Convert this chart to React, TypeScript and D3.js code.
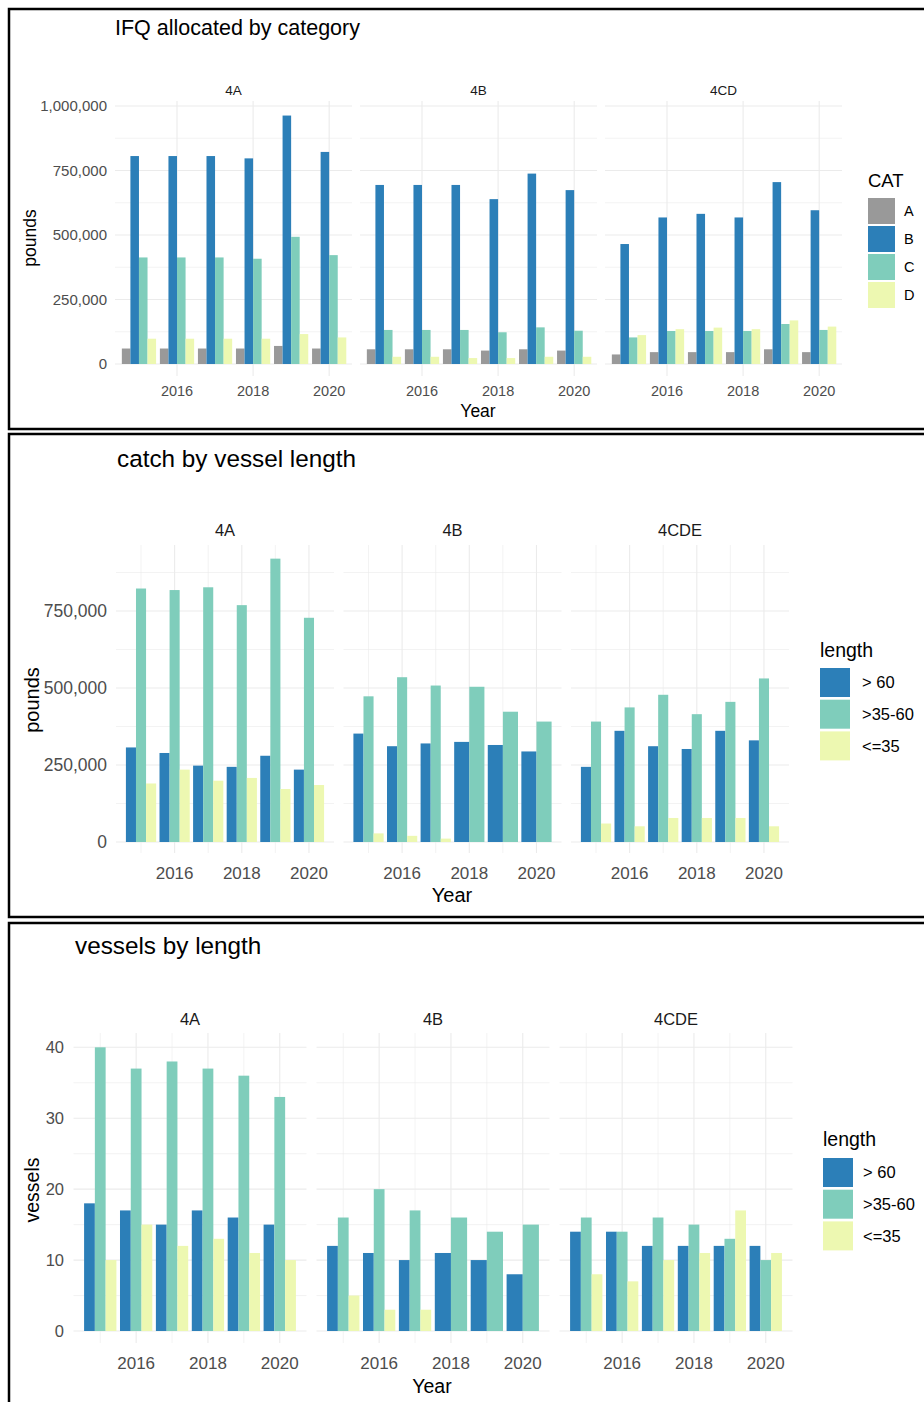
import React from 'react';
import * as d3 from 'd3';

// --- data ---
const years = [2015, 2016, 2017, 2018, 2019, 2020];

// IFQ allocated by category, rows = 4A, 4B, 4CD
const ifqAreas = ['4A', '4B', '4CD'];
const ifqCats = ['A', 'B', 'C', 'D'];
const ifqA = [
  [60000, 60000, 60000, 60000, 70000, 60000],
  [57000, 57000, 57000, 52000, 57000, 52000],
  [37000, 46000, 46000, 46000, 57000, 46000],
];
const ifqB = [
  [806000, 806000, 806000, 797000, 963000, 822000],
  [694000, 694000, 694000, 639000, 738000, 674000],
  [465000, 568000, 582000, 568000, 705000, 596000],
];
const ifqC = [
  [413000, 413000, 413000, 408000, 493000, 422000],
  [132000, 132000, 132000, 123000, 142000, 129000],
  [103000, 128000, 128000, 128000, 155000, 132000],
];
const ifqD = [
  [98000, 98000, 98000, 98000, 116000, 103000],
  [28000, 28000, 23000, 23000, 28000, 28000],
  [112000, 135000, 141000, 135000, 169000, 145000],
];

// catch and vessels by length, rows = 4A, 4B, 4CDE
const lenAreas = ['4A', '4B', '4CDE'];
const lenCats = ['> 60', '>35-60', '<=35'];
const catchOver60 = [
  [307000, 289000, 248000, 244000, 280000, 235000],
  [352000, 311000, 320000, 325000, 315000, 294000],
  [244000, 361000, 311000, 302000, 361000, 330000],
];
const catch35to60 = [
  [823000, 818000, 827000, 769000, 920000, 728000],
  [473000, 535000, 508000, 504000, 423000, 391000],
  [391000, 437000, 478000, 415000, 455000, 531000],
];
const catchUnder35 = [
  [190000, 235000, 199000, 208000, 172000, 185000],
  [28000, 20000, 11000, null, null, null],
  [60000, 51000, 78000, 78000, 78000, 51000],
];
const vesOver60 = [
  [18, 17, 15, 17, 16, 15],
  [12, 11, 10, 11, 10, 8],
  [14, 14, 12, 12, 12, 12],
];
const ves35to60 = [
  [40, 37, 38, 37, 36, 33],
  [16, 20, 17, 16, 14, 15],
  [16, 14, 16, 15, 13, 10],
];
const vesUnder35 = [
  [10, 15, 12, 13, 11, 10],
  [5, 3, 3, null, null, null],
  [8, 7, 10, 11, 17, 11],
];

const ifqTicks = [0, 250000, 500000, 750000, 1000000];
const catchTicks = [0, 250000, 500000, 750000];
const vesTicks = [0, 10, 20, 30, 40];
const yearTicks = [2016, 2018, 2020];

const catColors = ['#999999', '#2C7FB8', '#7FCDBB', '#EDF8B1'];
const lenColors = ['#2C7FB8', '#7FCDBB', '#EDF8B1'];

const FONT = '"Liberation Sans", Arial, sans-serif';
const GRID = '#EBEBEB';
const fmt = d3.format(',');

type Cfg = {
  title: string; titleX: number; titleY: number; titleSize: number;
  areas: string[]; cats: string[]; colors: string[]; series: (number | null)[][][];
  panelX: number[]; panelW: number; panelTop: number; panelBottom: number;
  xDomain: [number, number]; yMax: number; zeroY: number; maxY: number;
  yTicks: number[]; yMinor: number[]; xMinor: number[];
  yLabelX: number; yTickSize: number; tickSize: number; tickY: number;
  facetY: number; facetSize: number;
  xTitleX: number; xTitleY: number; yTitle: string; yTitleX: number; yTitleY: number; axisTitleSize: number;
  legTitle: string; legX: number; legTitleY: number; legTitleSize: number;
  keyY: number; keyW: number; keyH: number; keyStep: number; legLabelX: number; legLabelSize: number;
};

function FacetBars({ c }: { c: Cfg }) {
  const y = d3.scaleLinear().domain([0, c.yMax]).range([c.zeroY, c.maxY]);
  return (
    <g fontFamily={FONT}>
      <text x={c.titleX} y={c.titleY} fontSize={c.titleSize} fill="#000">{c.title}</text>
      {c.areas.map((area, ai) => {
        const x = d3.scaleLinear().domain(c.xDomain).range([c.panelX[ai], c.panelX[ai] + c.panelW]);
        const x0 = c.panelX[ai];
        const x1 = x0 + c.panelW;
        return (
          <g key={area}>
            {c.yMinor.map((t) => (
              <line key={'ym' + t} x1={x0} x2={x1} y1={y(t)} y2={y(t)} stroke={GRID} strokeWidth={0.6} />
            ))}
            {c.xMinor.map((t) => (
              <line key={'xm' + t} x1={x(t)} x2={x(t)} y1={c.panelTop} y2={c.panelBottom} stroke={GRID} strokeWidth={0.6} />
            ))}
            {c.yTicks.map((t) => (
              <line key={'y' + t} x1={x0} x2={x1} y1={y(t)} y2={y(t)} stroke={GRID} strokeWidth={1.1} />
            ))}
            {yearTicks.map((t) => (
              <line key={'x' + t} x1={x(t)} x2={x(t)} y1={c.panelTop} y2={c.panelBottom} stroke={GRID} strokeWidth={1.1} />
            ))}
            {years.map((yr, yi) => {
              const present = c.series
                .map((s, si) => ({ v: s[ai][yi], si }))
                .filter((d) => d.v !== null && d.v !== undefined);
              const bw = 0.9 / present.length;
              return present.map((d, k) => {
                const left = x(yr - 0.45 + k * bw);
                const right = x(yr - 0.45 + (k + 1) * bw);
                return (
                  <rect key={yr + '-' + d.si} x={left} width={right - left}
                    y={y(d.v as number)} height={c.zeroY - y(d.v as number)} fill={c.colors[d.si]} />
                );
              });
            })}
            <text x={(x0 + x1) / 2} y={c.facetY + c.facetSize * 0.35} fontSize={c.facetSize}
              textAnchor="middle" fill="#1A1A1A">{area}</text>
            {yearTicks.map((t) => (
              <text key={'xl' + t} x={x(t)} y={c.tickY + c.tickSize * 0.35} fontSize={c.tickSize}
                textAnchor="middle" fill="#4D4D4D">{t}</text>
            ))}
          </g>
        );
      })}
      {c.yTicks.map((t) => (
        <text key={'yl' + t} x={c.yLabelX} y={y(t) + c.yTickSize * 0.35} fontSize={c.yTickSize}
          textAnchor="end" fill="#4D4D4D">{fmt(t)}</text>
      ))}
      <text x={c.xTitleX} y={c.xTitleY + c.axisTitleSize * 0.35} fontSize={c.axisTitleSize} textAnchor="middle" fill="#000">Year</text>
      <text transform={`translate(${c.yTitleX},${c.yTitleY}) rotate(-90)`} y={c.axisTitleSize * 0.35}
        fontSize={c.axisTitleSize} textAnchor="middle" fill="#000">{c.yTitle}</text>
      <text x={c.legX} y={c.legTitleY + c.legTitleSize * 0.35} fontSize={c.legTitleSize} fill="#000">{c.legTitle}</text>
      {c.cats.map((cat, i) => (
        <g key={cat}>
          <rect x={c.legX} y={c.keyY + i * c.keyStep} width={c.keyW} height={c.keyH} fill={c.colors[i]} />
          <text x={c.legLabelX} y={c.keyY + i * c.keyStep + c.keyH / 2 + c.legLabelSize * 0.35}
            fontSize={c.legLabelSize} fill="#000">{cat}</text>
        </g>
      ))}
    </g>
  );
}

const half = (ticks: number[]) => ticks.slice(1).map((t, i) => (t + ticks[i]) / 2);

const chart1: Cfg = {
  title: 'IFQ allocated by category', titleX: 115, titleY: 35, titleSize: 21.5,
  areas: ifqAreas, cats: ifqCats, colors: catColors, series: [ifqA, ifqB, ifqC, ifqD],
  panelX: [115, 360, 605], panelW: 237, panelTop: 101, panelBottom: 376,
  xDomain: [2014.37, 2020.6], yMax: 1000000, zeroY: 364, maxY: 106,
  yTicks: ifqTicks, yMinor: half(ifqTicks), xMinor: [],
  yLabelX: 107, yTickSize: 15, tickSize: 14.5, tickY: 391,
  facetY: 90, facetSize: 13.5,
  xTitleX: 478, xTitleY: 411, yTitle: 'pounds', yTitleX: 30, yTitleY: 238, axisTitleSize: 17.5,
  legTitle: 'CAT', legX: 868, legTitleY: 181, legTitleSize: 18.5,
  keyY: 198, keyW: 27, keyH: 26, keyStep: 28, legLabelX: 904, legLabelSize: 14.5,
};

const chart2: Cfg = {
  title: 'catch by vessel length', titleX: 117, titleY: 467, titleSize: 24.3,
  areas: lenAreas, cats: lenCats, colors: lenColors, series: [catchOver60, catch35to60, catchUnder35],
  panelX: [116, 343.5, 571], panelW: 218, panelTop: 545, panelBottom: 853,
  xDomain: [2014.255, 2020.745], yMax: 750000, zeroY: 842, maxY: 611,
  yTicks: catchTicks, yMinor: [...half(catchTicks), 875000], xMinor: [2015, 2017, 2019],
  yLabelX: 107, yTickSize: 17.5, tickSize: 17, tickY: 873,
  facetY: 530, facetSize: 16.5,
  xTitleX: 452, xTitleY: 895, yTitle: 'pounds', yTitleX: 32, yTitleY: 700, axisTitleSize: 20,
  legTitle: 'length', legX: 820, legTitleY: 650, legTitleSize: 19.5,
  keyY: 668, keyW: 30, keyH: 29, keyStep: 31.7, legLabelX: 862, legLabelSize: 16.5,
};

const chart3: Cfg = {
  title: 'vessels by length', titleX: 75, titleY: 954, titleSize: 24.3,
  areas: lenAreas, cats: lenCats, colors: lenColors, series: [vesOver60, ves35to60, vesUnder35],
  panelX: [73.5, 316.5, 559.5], panelW: 233, panelTop: 1033, panelBottom: 1343,
  xDomain: [2014.255, 2020.745], yMax: 40, zeroY: 1331, maxY: 1047.3,
  yTicks: vesTicks, yMinor: half(vesTicks), xMinor: [2015, 2017, 2019],
  yLabelX: 64, yTickSize: 16.5, tickSize: 17, tickY: 1363,
  facetY: 1019, facetSize: 16.5,
  xTitleX: 432, xTitleY: 1386, yTitle: 'vessels', yTitleX: 32, yTitleY: 1190, axisTitleSize: 19.5,
  legTitle: 'length', legX: 823, legTitleY: 1139, legTitleSize: 19.5,
  keyY: 1158, keyW: 30, keyH: 29, keyStep: 31.7, legLabelX: 863, legLabelSize: 16.5,
};

export default function App() {
  return (
    <svg width={924} height={1402} style={{ position: 'absolute', left: 0, top: 0, background: '#fff' }}>
      <rect x={0} y={0} width={924} height={1402} fill="#fff" />
      <rect x={9} y={9} width={930} height={420} fill="none" stroke="#000" strokeWidth={2.5} />
      <rect x={9} y={434} width={930} height={483} fill="none" stroke="#000" strokeWidth={2.5} />
      <rect x={9} y={923} width={930} height={500} fill="none" stroke="#000" strokeWidth={2.5} />
      <FacetBars c={chart1} />
      <FacetBars c={chart2} />
      <FacetBars c={chart3} />
    </svg>
  );
}
